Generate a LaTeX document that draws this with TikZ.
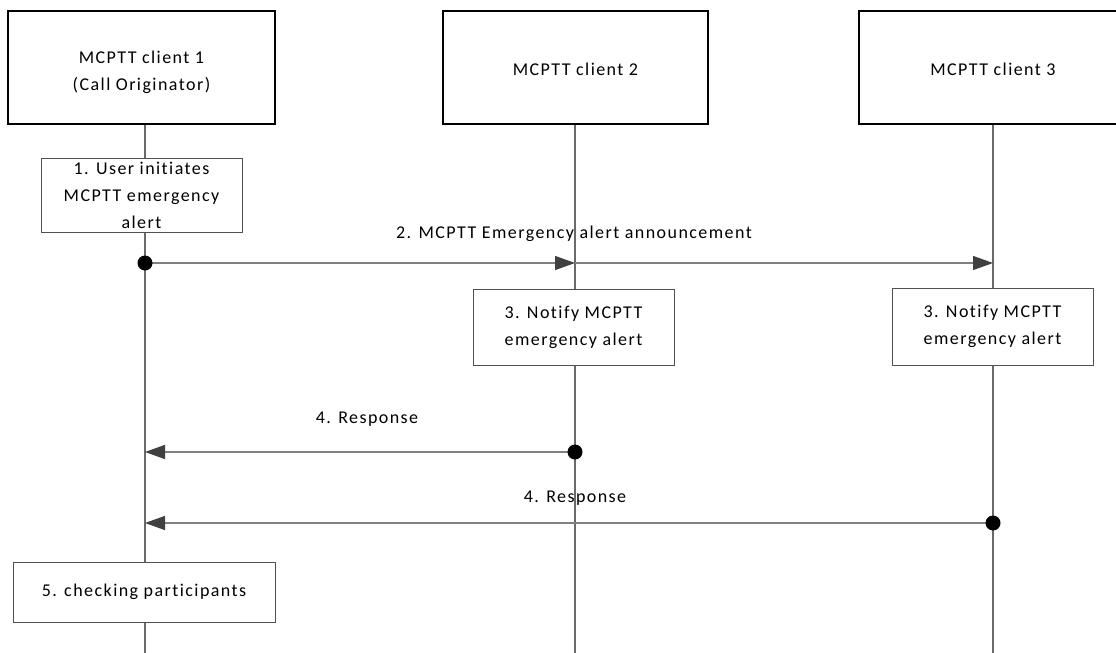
\documentclass[tikz,border=0pt]{standalone}
\usepackage{fontspec}
\setmainfont{Carlito}[LetterSpace=8, Ligatures=NoCommon]
\usetikzlibrary{arrows.meta}
\definecolor{lifegray}{HTML}{6A6A6A}
\definecolor{msggray}{HTML}{808080}
\definecolor{headgray}{HTML}{404040}
\definecolor{boxgray}{HTML}{505050}
\begin{document}
\begin{tikzpicture}[x=1pt,y=-1pt,
  every node/.style={font=\fontsize{18}{27}\selectfont, text=black},
  actor/.style={draw=black, line width=2pt, fill=white, minimum height=113pt, inner sep=0pt, align=center},
  actionbox/.style={draw=boxgray, line width=1pt, fill=white, inner sep=0pt, align=center},
  lifeline/.style={draw=lifegray, line width=1.3pt},
  msg/.style={draw=msggray, line width=1.3pt, -{Triangle[length=20pt,width=14pt,fill=headgray,color=headgray]}},
  msglabel/.style={inner sep=0pt},
  dotmark/.style={fill=black}]
\clip (0,0) rectangle (1116,653);
\fill[white] (0,0) rectangle (1116,653);
% lifeline ends
\coordinate (l1end) at (145,653);
\coordinate (l2end) at (575,653);
\coordinate (l3end) at (993,653);
% actors
\node[actor, minimum width=267pt] (c1) at (141.5,67.5) {\rule{0pt}{22pt}MCPTT client 1\\(Call Originator)};
\node[actor, minimum width=265pt] (c2) at (575.5,67.5) {\rule{0pt}{17pt}MCPTT client 2};
\node[actor, minimum width=268pt] (c3) at (993,67.5) {\rule{0pt}{17pt}MCPTT client 3};
% lifelines
\draw[lifeline] (c1.south -| l1end) -- (l1end);
\draw[lifeline] (c2.south -| l2end) -- (l2end);
\draw[lifeline] (c3.south -| l3end) -- (l3end);
% actions
\node[actionbox, minimum width=201pt, minimum height=74pt] (s1) at (141.5,195) {1. User initiates\\MCPTT emergency\\alert};
\node[actionbox, minimum width=201pt, minimum height=76pt] (s3a) at (573.5,327) {3. Notify MCPTT\\emergency alert};
\node[actionbox, minimum width=201pt, minimum height=77pt] (s3b) at (992.5,326.5) {3. Notify MCPTT\\emergency alert};
\node[actionbox, minimum width=262pt, minimum height=60pt] (s5) at (144,592) {5. checking participants};
% message points
\coordinate (m2s) at (145,263);
\coordinate (m2m) at (575,263);
\coordinate (m2e) at (993,263);
\coordinate (m4as) at (575,452);
\coordinate (m4ae) at (145,452);
\coordinate (m4bs) at (993,523);
\coordinate (m4be) at (145,523);
% messages
\draw[msg] (m2s) -- (m2m);
\draw[msg] (m2m) -- (m2e);
\fill[dotmark] (m2s) circle (7.5pt);
\node[msglabel] (lab2) at (574,234) {2. MCPTT Emergency alert announcement};
\draw[msg] (m4as) -- (m4ae);
\fill[dotmark] (m4as) circle (7.5pt);
\node[msglabel] (lab4a) at (367,419) {4. Response};
\draw[msg] (m4bs) -- (m4be);
\fill[dotmark] (m4bs) circle (7.5pt);
\node[msglabel] (lab4b) at (575,498) {4. Response};
\end{tikzpicture}
\end{document}
